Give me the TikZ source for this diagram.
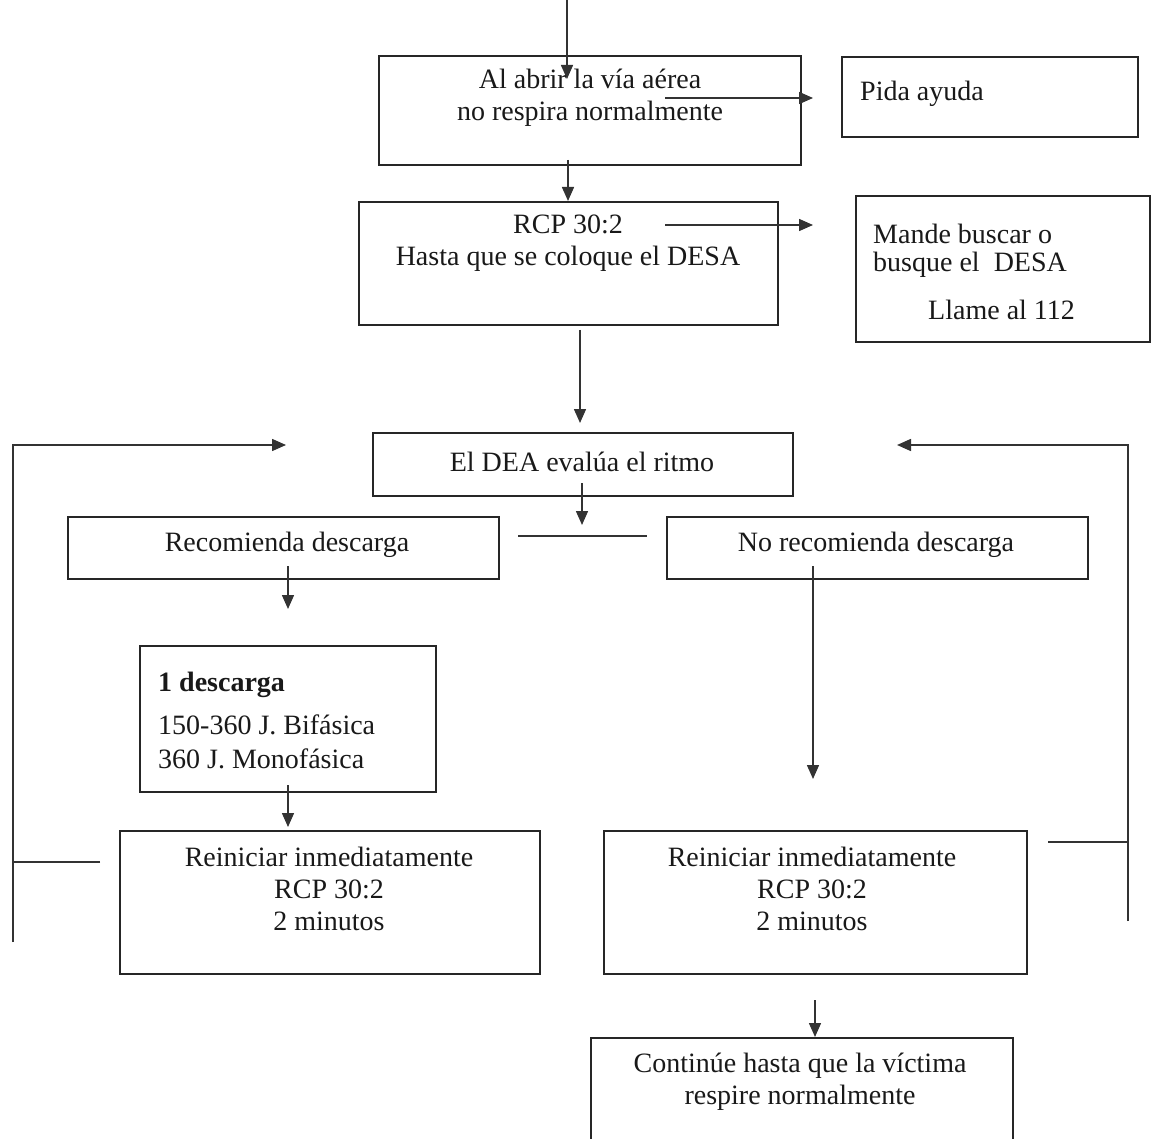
\documentclass[tikz,border=0pt]{standalone}
\usepackage{fontspec}
\setmainfont{Liberation Serif}
\usetikzlibrary{arrows.meta}
\begin{document}
\begin{tikzpicture}[x=1pt,y=-1pt,
  box/.style={draw=black!85, line width=1.6pt, inner sep=0pt, anchor=north west},
  txt/.style={font=\fontsize{28}{32}\selectfont, align=center, inner sep=0pt, text=black!90},
  ln/.style={draw=black!80, line width=1.5pt},
  arr/.style={ln, -{Triangle[length=14pt,width=12pt]}}]
\useasboundingbox[fill=white] (0,0) rectangle (1151,1139);

% boxes
\node[box, minimum width=422pt, minimum height=109pt] (b1) at (378,55) {};
\node[box, minimum width=296pt, minimum height=80pt] (bp) at (841,56) {};
\node[box, minimum width=419pt, minimum height=123pt] (b2) at (358,201) {};
\node[box, minimum width=294pt, minimum height=146pt] (bm) at (855,195) {};
\node[box, minimum width=420pt, minimum height=63pt] (bd) at (372,432) {};
\node[box, minimum width=431pt, minimum height=62pt] (br) at (67,516) {};
\node[box, minimum width=421pt, minimum height=62pt] (bn) at (666,516) {};
\node[box, minimum width=296pt, minimum height=146pt] (b1d) at (139,645) {};
\node[box, minimum width=420pt, minimum height=143pt] (bl) at (119,830) {};
\node[box, minimum width=423pt, minimum height=143pt] (brr) at (603,830) {};
\node[box, minimum width=422pt, minimum height=115pt] (bc) at (590,1037) {};

% texts
\node[txt] (t1) at (590,98) {Al abrir la vía aérea\\no respira normalmente};
\node[txt, anchor=west] (tp) at (860,94) {Pida ayuda};
\node[txt] (t2) at (568,243) {RCP 30:2\\Hasta que se coloque el DESA};
\node[txt, anchor=west] (tm1) at (873,234) {Mande buscar o};
\node[txt, anchor=west] (tm2) at (873,265) {busque el\ \ DESA};
\node[txt, anchor=west] (tm3) at (928,310) {Llame al 112};
\node[txt] (td) at (582,462) {El DEA evalúa el ritmo};
\node[txt] (tr) at (287,545) {Recomienda descarga};
\node[txt] (tn) at (876,545) {No recomienda descarga};
\node[txt, anchor=west, font=\fontsize{28}{32}\selectfont\bfseries] (td1) at (158,685) {1 descarga};
\node[txt, anchor=west] (td2) at (158,725) {150-360 J. Bifásica};
\node[txt, anchor=west] (td3) at (158,759) {360 J. Monofásica};
\node[txt] (tl) at (329,889) {Reiniciar inmediatamente\\RCP 30:2\\2 minutos};
\node[txt] (trr) at (812,889) {Reiniciar inmediatamente\\RCP 30:2\\2 minutos};
\node[txt] (tc) at (800,1082) {Continúe hasta que la víctima\\respire normalmente};

% coordinates for connector ends
\coordinate (c0) at (567,0);
\coordinate (c0e) at (567,79);
\coordinate (cp1) at (665,98);
\coordinate (cp2) at (813,98);
\coordinate (c12a) at (568,160);
\coordinate (c12b) at (568,201);
\coordinate (cm1) at (665,225);
\coordinate (cm2) at (813,225);
\coordinate (c2da) at (580,330);
\coordinate (c2db) at (580,423);
\coordinate (cda) at (582,483);
\coordinate (cdb) at (582,525);
\coordinate (ch1) at (518,536);
\coordinate (ch2) at (647,536);
\coordinate (cra) at (288,566);
\coordinate (crb) at (288,609);
\coordinate (cna) at (813,566);
\coordinate (cnb) at (813,779);
\coordinate (cla) at (288,785);
\coordinate (clb) at (288,827);
\coordinate (cca) at (815,1000);
\coordinate (ccb) at (815,1037);
% left loop
\coordinate (L1) at (100,862);
\coordinate (L2) at (13,862);
\coordinate (L3) at (13,942);
\coordinate (L4) at (13,445);
\coordinate (L5) at (286,445);
% right loop
\coordinate (R1) at (1048,842);
\coordinate (R2) at (1128,842);
\coordinate (R3) at (1128,921);
\coordinate (R4) at (1128,445);
\coordinate (R5) at (897,445);

\draw[arr] (c0) -- (c0e);
\draw[arr] (cp1) -- (cp2);
\draw[arr] (c12a) -- (c12b);
\draw[arr] (cm1) -- (cm2);
\draw[arr] (c2da) -- (c2db);
\draw[arr] (cda) -- (cdb);
\draw[ln] (ch1) -- (ch2);
\draw[arr] (cra) -- (crb);
\draw[arr] (cna) -- (cnb);
\draw[arr] (cla) -- (clb);
\draw[arr] (cca) -- (ccb);
\draw[ln] (L1) -- (L2);
\draw[arr] (L3) -- (L4) -- (L5);
\draw[ln] (R1) -- (R2);
\draw[arr] (R3) -- (R4) -- (R5);
\end{tikzpicture}
\end{document}
